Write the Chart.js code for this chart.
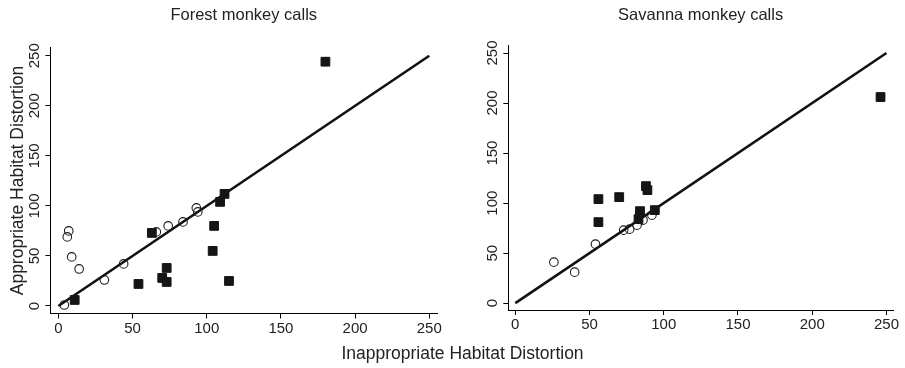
<!DOCTYPE html>
<html>
<head>
<meta charset="utf-8">
<script src="https://cdn.jsdelivr.net/npm/chart.js@4/dist/chart.umd.min.js"></script>
<style>
  html, body { margin: 0; padding: 0; background: #fff; }
  #wrap { position: relative; width: 905px; height: 368px; overflow: hidden;
          font-family: "Liberation Sans", Arial, Helvetica, sans-serif; }
  .panel { position: absolute; width: 450px; height: 345px; }
  #xTitle { position: absolute; left: 10px; width: 905px; top: 343px; text-align: center;
            font-size: 17.5px; color: #222; }
</style>
</head>
<body>
<div id="wrap">
  <div class="panel" style="left:0; top:0;"><canvas id="forest" width="450" height="345"></canvas></div>
  <div class="panel" style="left:455px; top:-3px;"><canvas id="savanna" width="450" height="345"></canvas></div>
  <div id="xTitle">Inappropriate Habitat Distortion</div>
</div>
<script>
// Axis ticks shared by both panels
const tickValues = [0, 50, 100, 150, 200, 250];

// Reference line of equal distortion (y = x)
const equalLineX = [0, 250];
const equalLineY = [0, 250];

// Forest monkey calls: filled squares
const forestSquareX = [180, 112, 109, 105, 104, 115, 63, 54, 70, 73, 73, 11];
const forestSquareY = [244, 112, 104, 80, 55, 25, 73, 22, 28, 38, 24, 6];
// Forest monkey calls: open circles
const forestCircleX = [4, 6, 7, 9, 14, 31, 44, 66, 74, 84, 93, 94];
const forestCircleY = [1, 69, 75, 49, 37, 26, 42, 74, 80, 84, 98, 94];

// Savanna monkey calls: filled squares
const savannaSquareX = [246, 56, 56, 70, 88, 89, 84, 83, 94];
const savannaSquareY = [206, 104, 81, 106, 117, 113, 92, 84, 93];
// Savanna monkey calls: open circles
const savannaCircleX = [26, 40, 54, 73, 77, 82, 86, 92];
const savannaCircleY = [41, 31, 59, 73, 74, 78, 83, 88];

const FONT = '"Liberation Sans", Arial, Helvetica, sans-serif';
const INK = '#222';
const TITLE_SIZE = 16.5;

function pts(xs, ys) { return xs.map((x, i) => ({ x: x, y: ys[i] })); }

function makePanel(id, opt) {
  const lh = TITLE_SIZE * 1.2;
  return new Chart(document.getElementById(id), {
    type: 'scatter',
    data: {
      datasets: [
        {
          data: pts(equalLineX, equalLineY),
          showLine: true, borderColor: '#111', borderWidth: 2.6,
          pointRadius: 0, pointHoverRadius: 0, order: 3
        },
        {
          data: pts(opt.sqX, opt.sqY),
          pointStyle: 'rect', pointRadius: 6.2, pointHoverRadius: 6.2,
          backgroundColor: '#151515', borderColor: '#151515', borderWidth: 1, order: 2
        },
        {
          data: pts(opt.ciX, opt.ciY),
          pointStyle: 'circle', pointRadius: 4.3, pointHoverRadius: 4.3,
          backgroundColor: 'rgba(0,0,0,0)', borderColor: '#1a1a1a', borderWidth: 1.1, order: 1
        }
      ]
    },
    options: {
      responsive: false,
      animation: false,
      devicePixelRatio: 1,
      events: [],
      layout: { padding: { left: 0, right: opt.padRight, top: 0, bottom: 0 } },
      plugins: {
        legend: { display: false },
        tooltip: { enabled: false },
        title: {
          display: true, text: opt.title, fullSize: false,
          color: INK, font: { family: FONT, size: TITLE_SIZE, weight: 'normal' },
          padding: { top: opt.titleMid - lh / 2, bottom: opt.areaTop - opt.titleMid - lh / 2 }
        }
      },
      scales: {
        x: {
          type: 'linear', min: opt.xMin, max: opt.xMax,
          afterBuildTicks: s => { s.ticks = tickValues.map(v => ({ value: v })); },
          afterFit: s => { s.height = opt.xAxisH; },
          border: { display: true, color: '#000', width: 1 },
          grid: { display: true, drawOnChartArea: false, drawTicks: true, tickLength: 5, color: '#000', lineWidth: 1 },
          ticks: { color: INK, font: { family: FONT, size: 15 }, padding: 1, maxRotation: 0, autoSkip: false }
        },
        y: {
          type: 'linear', min: opt.yMin, max: opt.yMax,
          afterBuildTicks: s => { s.ticks = tickValues.map(v => ({ value: v })); },
          afterFit: s => { s.width = opt.yAxisW; },
          border: { display: true, color: '#000', width: 1 },
          grid: { display: true, drawOnChartArea: false, drawTicks: true, tickLength: 5, color: '#000', lineWidth: 1 },
          ticks: { color: INK, font: { family: FONT, size: 15 }, padding: -2, minRotation: 90, maxRotation: 90,
                   crossAlign: 'center', autoSkip: false },
          title: {
            display: !!opt.yTitle, text: opt.yTitle || '', color: INK,
            font: { family: FONT, size: 17.5 }, padding: { top: 7.5, bottom: 0 }
          }
        }
      }
    }
  });
}

makePanel('forest', {
  title: 'Forest monkey calls', yTitle: 'Appropriate Habitat Distortion',
  sqX: forestSquareX, sqY: forestSquareY, ciX: forestCircleX, ciY: forestCircleY,
  xMin: -5.3, xMax: 255.2, yMin: -7.5, yMax: 258.2,
  yAxisW: 50.5, xAxisH: 31.5, padRight: 13,
  titleMid: 15, areaTop: 47.5
});

makePanel('savanna', {
  title: 'Savanna monkey calls', yTitle: null,
  sqX: savannaSquareX, sqY: savannaSquareY, ciX: savannaCircleX, ciY: savannaCircleY,
  xMin: -4.7, xMax: 254.4, yMin: -6.8, yMax: 258,
  yAxisW: 53.3, xAxisH: 32, padRight: 12,
  titleMid: 18, areaTop: 48
});
</script>
</body>
</html>
